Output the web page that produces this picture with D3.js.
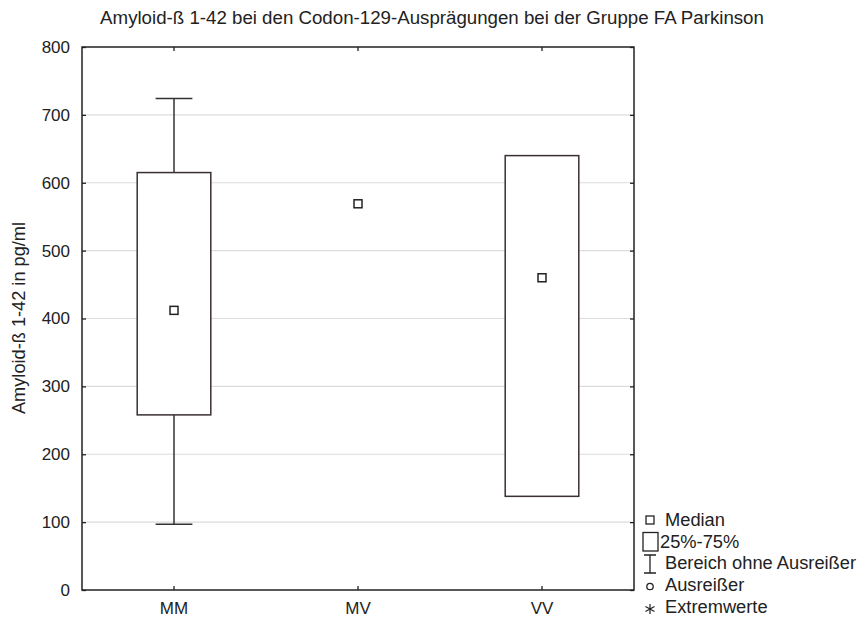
<!DOCTYPE html>
<html><head><meta charset="utf-8">
<script src="https://cdn.jsdelivr.net/npm/d3@7"></script>
<style>body{margin:0;background:#fff}svg{display:block}text{font-family:"Liberation Sans",Arial,sans-serif;fill:#222}</style>
</head><body>
<svg id="c" width="860" height="621"></svg>
<script>
const categories = ["MM", "MV", "VV"];
const medians = [412, 569, 460];
const q1 = [258, null, 138];
const q3 = [615, null, 640];
const whiskerLow = [97, null, 138];
const whiskerHigh = [724, null, 640];
const yTicks = [0, 100, 200, 300, 400, 500, 600, 700, 800];
const title = "Amyloid-ß 1-42 bei den Codon-129-Ausprägungen bei der Gruppe FA Parkinson";
const yLabel = "Amyloid-ß 1-42 in pg/ml";
const legendItems = ["Median", "25%-75%", "Bereich ohne Ausreißer", "Ausreißer", "Extremwerte"];

const svg = d3.select("#c");
const L = 82, R = 634, T = 47, B = 590;
const x = d3.scaleBand().domain(categories).range([L, R]);
const y = d3.scaleLinear().domain([0, 800]).range([B, T]);
const fs = 17;

// gridlines
svg.append("g").selectAll("line").data(yTicks.filter(d => d > 0 && d < 800)).join("line")
  .attr("x1", L).attr("x2", R).attr("y1", d => y(d)).attr("y2", d => y(d))
  .attr("stroke", "#dcdcdc").attr("stroke-width", 1.2);

// axes (ticks inside)
const ax = (g, a) => { g.call(a); g.select(".domain").remove(); g.selectAll("text").style("font-size", fs + "px").attr("fill", "#222"); g.selectAll("line").attr("stroke", "#222").attr("stroke-width", 1.3); };
svg.append("g").attr("transform", `translate(${L},0)`)
  .call(g => ax(g, d3.axisLeft(y).tickValues(yTicks).tickSize(-4).tickPadding(12)));
svg.append("g").attr("transform", `translate(${R},0)`)
  .call(g => ax(g, d3.axisRight(y).tickValues(yTicks).tickSize(-4).tickFormat("")));
svg.append("g").attr("transform", `translate(0,${B})`)
  .call(g => ax(g, d3.axisBottom(x).tickSize(-4).tickPadding(12)));
svg.append("g").attr("transform", `translate(0,${T})`)
  .call(g => ax(g, d3.axisTop(x).tickSize(-4).tickFormat("")));

// frame
svg.append("rect").attr("x", L).attr("y", T).attr("width", R - L).attr("height", B - T)
  .attr("fill", "none").attr("stroke", "#222").attr("stroke-width", 1.5);

const data = categories.map((c, i) => ({c, med: medians[i], q1: q1[i], q3: q3[i], lo: whiskerLow[i], hi: whiskerHigh[i]}));
const bw = x.bandwidth() * 0.4;
const cw = x.bandwidth() * 0.2;
const g = svg.append("g");
data.forEach(d => {
  const cx = x(d.c) + x.bandwidth() / 2;
  if (d.lo != null && d.q1 != null && d.lo < d.q1) {
    g.append("line").attr("x1", cx).attr("x2", cx).attr("y1", y(d.lo)).attr("y2", y(d.q1)).attr("stroke", "#333").attr("stroke-width", 1.5);
    g.append("line").attr("x1", cx - cw / 2).attr("x2", cx + cw / 2).attr("y1", y(d.lo)).attr("y2", y(d.lo)).attr("stroke", "#333").attr("stroke-width", 1.5);
  }
  if (d.hi != null && d.q3 != null && d.hi > d.q3) {
    g.append("line").attr("x1", cx).attr("x2", cx).attr("y1", y(d.hi)).attr("y2", y(d.q3)).attr("stroke", "#333").attr("stroke-width", 1.5);
    g.append("line").attr("x1", cx - cw / 2).attr("x2", cx + cw / 2).attr("y1", y(d.hi)).attr("y2", y(d.hi)).attr("stroke", "#333").attr("stroke-width", 1.5);
  }
  if (d.q1 != null) {
    g.append("rect").attr("x", cx - bw / 2).attr("width", bw).attr("y", y(d.q3)).attr("height", y(d.q1) - y(d.q3))
      .attr("fill", "#fff").attr("stroke", "#3a3030").attr("stroke-width", 1.5);
  }
  g.append("rect").attr("x", cx - 4).attr("y", y(d.med) - 4).attr("width", 8).attr("height", 8)
    .attr("fill", "#fff").attr("stroke", "#222").attr("stroke-width", 1.5);
});

// title & y label
svg.append("text").attr("x", 432).attr("y", 24).attr("text-anchor", "middle").style("font-size", "18.7px").text(title);
svg.append("text").attr("transform", "translate(25,318) rotate(-90)").attr("text-anchor", "middle").style("font-size", "18.2px").text(yLabel);

// legend
const lg = svg.append("g");
lg.append("rect").attr("x", 646).attr("y", 516).attr("width", 8).attr("height", 8).attr("fill", "none").attr("stroke", "#222").attr("stroke-width", 1.3);
lg.append("rect").attr("x", 643).attr("y", 532.5).attr("width", 15).attr("height", 18.5).attr("fill", "none").attr("stroke", "#222").attr("stroke-width", 1.3);
lg.append("path").attr("d", "M644,555H656M650,555V573M644,573H656").attr("fill", "none").attr("stroke", "#222").attr("stroke-width", 1.3);
lg.append("circle").attr("cx", 650).attr("cy", 586.5).attr("r", 3.2).attr("fill", "none").attr("stroke", "#222").attr("stroke-width", 1.3);
lg.append("path").attr("d", "M650,604V614M645.5,606.5L654.5,611.5M645.5,611.5L654.5,606.5").attr("fill", "none").attr("stroke", "#222").attr("stroke-width", 1.2);
const lBase = [526, 548, 569, 591, 613];
legendItems.forEach((t, i) => {
  lg.append("text").attr("x", i === 1 ? 660 : 665).attr("y", lBase[i]).style("font-size", "18.3px").text(t);
});
</script>
</body></html>
